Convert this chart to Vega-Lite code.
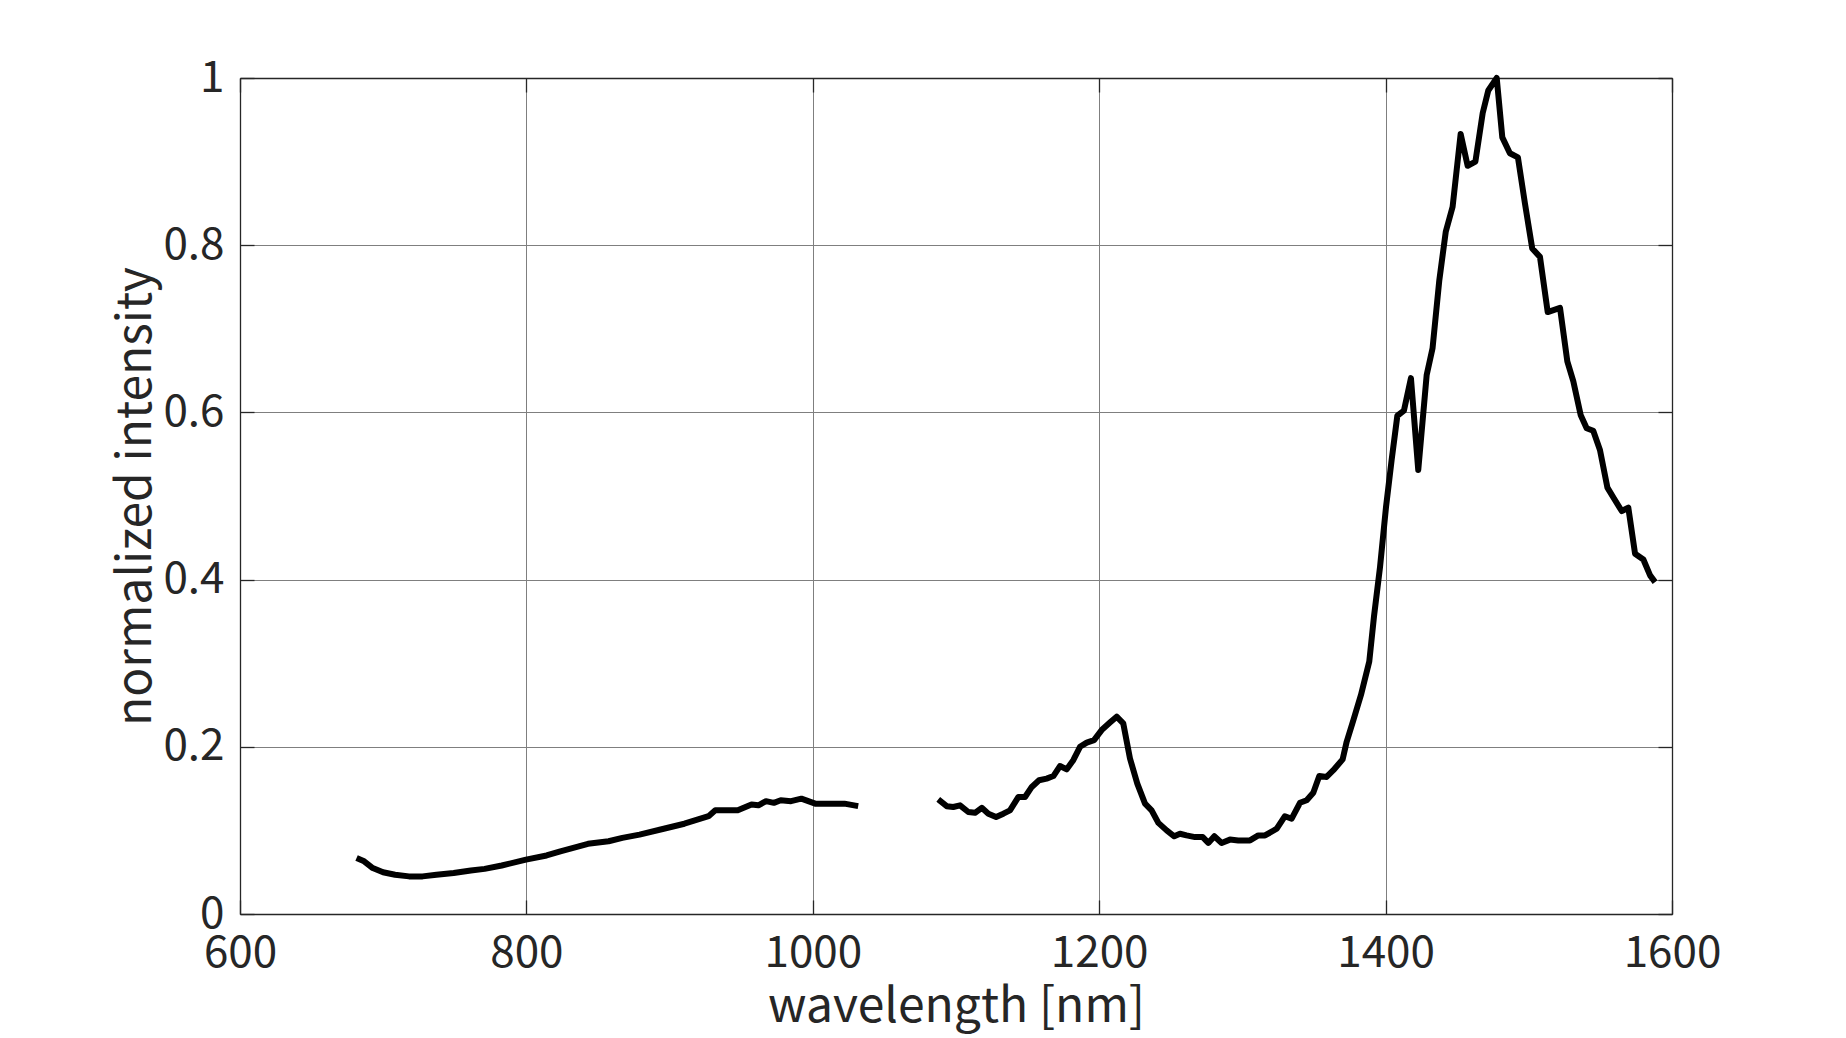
{
"$schema": "https://vega.github.io/schema/vega-lite/v6.json",
"width": 1432,
"height": 836,
"autosize": {"type": "none"},
"padding": {"left": 240, "top": 78, "right": 174, "bottom": 124},
"background": "white",
"config": {"view": {"stroke": null}, "font": "Noto Sans CJK JP"},
"data": {"values": [
{"wl":681.4,"v":0.067,"seg":1},{"wl":686.7,"v":0.063,"seg":1},{"wl":692.7,"v":0.055,"seg":1},{"wl":699.9,"v":0.050,"seg":1},{"wl":708.3,"v":0.047,"seg":1},{"wl":718,"v":0.045,"seg":1},{"wl":727.5,"v":0.045,"seg":1},{"wl":737.2,"v":0.047,"seg":1},{"wl":749.2,"v":0.049,"seg":1},{"wl":761.2,"v":0.052,"seg":1},{"wl":770.8,"v":0.054,"seg":1},{"wl":782.8,"v":0.058,"seg":1},{"wl":799.7,"v":0.065,"seg":1},{"wl":814.1,"v":0.070,"seg":1},{"wl":823.7,"v":0.075,"seg":1},{"wl":843,"v":0.084,"seg":1},{"wl":857.4,"v":0.087,"seg":1},{"wl":867,"v":0.091,"seg":1},{"wl":879,"v":0.095,"seg":1},{"wl":895.9,"v":0.102,"seg":1},{"wl":910.3,"v":0.108,"seg":1},{"wl":927.2,"v":0.117,"seg":1},{"wl":931.9,"v":0.124,"seg":1},{"wl":947.6,"v":0.124,"seg":1},{"wl":957.2,"v":0.131,"seg":1},{"wl":962,"v":0.130,"seg":1},{"wl":967.3,"v":0.135,"seg":1},{"wl":972.8,"v":0.133,"seg":1},{"wl":977.6,"v":0.136,"seg":1},{"wl":984.8,"v":0.135,"seg":1},{"wl":992,"v":0.138,"seg":1},{"wl":1001.7,"v":0.132,"seg":1},{"wl":1011.3,"v":0.132,"seg":1},{"wl":1022.1,"v":0.132,"seg":1},{"wl":1031.7,"v":0.129,"seg":1},
{"wl":1087.6,"v":0.137,"seg":2},{"wl":1093.5,"v":0.129,"seg":2},{"wl":1098.1,"v":0.128,"seg":2},{"wl":1102.8,"v":0.130,"seg":2},{"wl":1108.6,"v":0.122,"seg":2},{"wl":1113.3,"v":0.121,"seg":2},{"wl":1118,"v":0.127,"seg":2},{"wl":1122.6,"v":0.120,"seg":2},{"wl":1128,"v":0.116,"seg":2},{"wl":1133.1,"v":0.120,"seg":2},{"wl":1137.7,"v":0.124,"seg":2},{"wl":1143.6,"v":0.140,"seg":2},{"wl":1148.2,"v":0.140,"seg":2},{"wl":1152.9,"v":0.152,"seg":2},{"wl":1158,"v":0.160,"seg":2},{"wl":1163.3,"v":0.162,"seg":2},{"wl":1168,"v":0.165,"seg":2},{"wl":1172.6,"v":0.177,"seg":2},{"wl":1177.3,"v":0.173,"seg":2},{"wl":1181.9,"v":0.184,"seg":2},{"wl":1186.6,"v":0.200,"seg":2},{"wl":1191.3,"v":0.205,"seg":2},{"wl":1196.4,"v":0.208,"seg":2},{"wl":1201.7,"v":0.220,"seg":2},{"wl":1207.5,"v":0.229,"seg":2},{"wl":1212.2,"v":0.236,"seg":2},{"wl":1216.8,"v":0.228,"seg":2},{"wl":1221.5,"v":0.186,"seg":2},{"wl":1226.6,"v":0.156,"seg":2},{"wl":1232,"v":0.132,"seg":2},{"wl":1236.6,"v":0.124,"seg":2},{"wl":1241.3,"v":0.109,"seg":2},{"wl":1247.1,"v":0.100,"seg":2},{"wl":1252.4,"v":0.093,"seg":2},{"wl":1256.4,"v":0.096,"seg":2},{"wl":1261,"v":0.094,"seg":2},{"wl":1266.9,"v":0.092,"seg":2},{"wl":1272.3,"v":0.092,"seg":2},{"wl":1276.2,"v":0.085,"seg":2},{"wl":1280.4,"v":0.093,"seg":2},{"wl":1285.5,"v":0.085,"seg":2},{"wl":1291.3,"v":0.089,"seg":2},{"wl":1297.1,"v":0.088,"seg":2},{"wl":1305.3,"v":0.088,"seg":2},{"wl":1311.1,"v":0.094,"seg":2},{"wl":1315.8,"v":0.094,"seg":2},{"wl":1324,"v":0.102,"seg":2},{"wl":1329.7,"v":0.117,"seg":2},{"wl":1334.4,"v":0.114,"seg":2},{"wl":1340.2,"v":0.133,"seg":2},{"wl":1344.9,"v":0.136,"seg":2},{"wl":1349.5,"v":0.145,"seg":2},{"wl":1353.7,"v":0.165,"seg":2},{"wl":1358.8,"v":0.164,"seg":2},{"wl":1363.5,"v":0.172,"seg":2},{"wl":1370,"v":0.185,"seg":2},{"wl":1372.8,"v":0.206,"seg":2},{"wl":1377.5,"v":0.232,"seg":2},{"wl":1382.8,"v":0.262,"seg":2},{"wl":1388.6,"v":0.302,"seg":2},{"wl":1391.9,"v":0.356,"seg":2},{"wl":1396.1,"v":0.415,"seg":2},{"wl":1400.3,"v":0.487,"seg":2},{"wl":1404.2,"v":0.543,"seg":2},{"wl":1408.2,"v":0.596,"seg":2},{"wl":1412.8,"v":0.602,"seg":2},{"wl":1417.7,"v":0.641,"seg":2},{"wl":1422.8,"v":0.531,"seg":2},{"wl":1428.7,"v":0.645,"seg":2},{"wl":1432.8,"v":0.677,"seg":2},{"wl":1437.5,"v":0.758,"seg":2},{"wl":1442,"v":0.816,"seg":2},{"wl":1446.8,"v":0.846,"seg":2},{"wl":1452.4,"v":0.933,"seg":2},{"wl":1457.3,"v":0.895,"seg":2},{"wl":1462.7,"v":0.900,"seg":2},{"wl":1467.8,"v":0.958,"seg":2},{"wl":1471.7,"v":0.985,"seg":2},{"wl":1477.6,"v":1.000,"seg":2},{"wl":1481.5,"v":0.929,"seg":2},{"wl":1486.8,"v":0.910,"seg":2},{"wl":1492.4,"v":0.905,"seg":2},{"wl":1497.3,"v":0.850,"seg":2},{"wl":1502.4,"v":0.796,"seg":2},{"wl":1507.8,"v":0.786,"seg":2},{"wl":1513.2,"v":0.720,"seg":2},{"wl":1521.8,"v":0.725,"seg":2},{"wl":1526.9,"v":0.661,"seg":2},{"wl":1531.1,"v":0.637,"seg":2},{"wl":1536.2,"v":0.597,"seg":2},{"wl":1540.4,"v":0.581,"seg":2},{"wl":1545,"v":0.578,"seg":2},{"wl":1549.7,"v":0.555,"seg":2},{"wl":1554.9,"v":0.510,"seg":2},{"wl":1559.5,"v":0.497,"seg":2},{"wl":1564.9,"v":0.482,"seg":2},{"wl":1569.5,"v":0.486,"seg":2},{"wl":1574.2,"v":0.431,"seg":2},{"wl":1580,"v":0.424,"seg":2},{"wl":1584.7,"v":0.405,"seg":2},{"wl":1588.2,"v":0.397,"seg":2}
]},
"layer": [
{
"mark": {"type": "line", "color": "black", "strokeWidth": 6, "strokeJoin": "round", "clip": false},
"encoding": {
"x": {"field": "wl", "type": "quantitative", "scale": {"domain": [600, 1600], "nice": false, "zero": false},
"axis": {"orient": "bottom", "title": "wavelength [nm]", "values": [600, 800, 1000, 1200, 1400, 1600], "format": "d",
"grid": true, "gridColor": "#7f7f7f", "gridWidth": 1,
"domain": true, "domainColor": "#262626", "domainWidth": 1.3,
"ticks": true, "tickSize": -14, "tickColor": "#262626", "tickWidth": 1.3,
"labelFont": "Noto Sans CJK JP", "labelFontSize": 44, "labelColor": "#262626", "labelPadding": 31, "labelFlush": false, "labelOverlap": false,
"titleFont": "Noto Sans CJK JP", "titleFontSize": 48, "titleFontWeight": "normal", "titleColor": "#262626", "titlePadding": 8}},
"y": {"field": "v", "type": "quantitative", "scale": {"domain": [0, 1], "nice": false},
"axis": {"orient": "left", "title": "normalized intensity", "values": [0, 0.2, 0.4, 0.6, 0.8, 1], "format": "~g",
"grid": true, "gridColor": "#7f7f7f", "gridWidth": 1,
"domain": true, "domainColor": "#262626", "domainWidth": 1.3,
"ticks": true, "tickSize": -14, "tickColor": "#262626", "tickWidth": 1.3,
"labelFont": "Noto Sans CJK JP", "labelFontSize": 44, "labelColor": "#262626", "labelPadding": 30, "labelFlush": false, "labelOverlap": false,
"titleFont": "Noto Sans CJK JP", "titleFontSize": 48, "titleFontWeight": "normal", "titleColor": "#262626", "titlePadding": 2}},
"detail": {"field": "seg", "type": "nominal"}
}
},
{
"mark": {"type": "line", "opacity": 0},
"encoding": {
"x": {"field": "wl", "type": "quantitative", "scale": {"domain": [600, 1600], "nice": false, "zero": false},
"axis": {"orient": "top", "title": null, "values": [600, 800, 1000, 1200, 1400, 1600], "labels": false, "grid": false,
"domain": true, "domainColor": "#262626", "domainWidth": 1.3,
"ticks": true, "tickSize": -14, "tickColor": "#262626", "tickWidth": 1.3}},
"y": {"field": "v", "type": "quantitative", "scale": {"domain": [0, 1], "nice": false},
"axis": {"orient": "right", "title": null, "values": [0, 0.2, 0.4, 0.6, 0.8, 1], "labels": false, "grid": false,
"domain": true, "domainColor": "#262626", "domainWidth": 1.3,
"ticks": true, "tickSize": -14, "tickColor": "#262626", "tickWidth": 1.3}},
"detail": {"field": "seg", "type": "nominal"}
}
}
],
"resolve": {"axis": {"x": "independent", "y": "independent"}}
}
